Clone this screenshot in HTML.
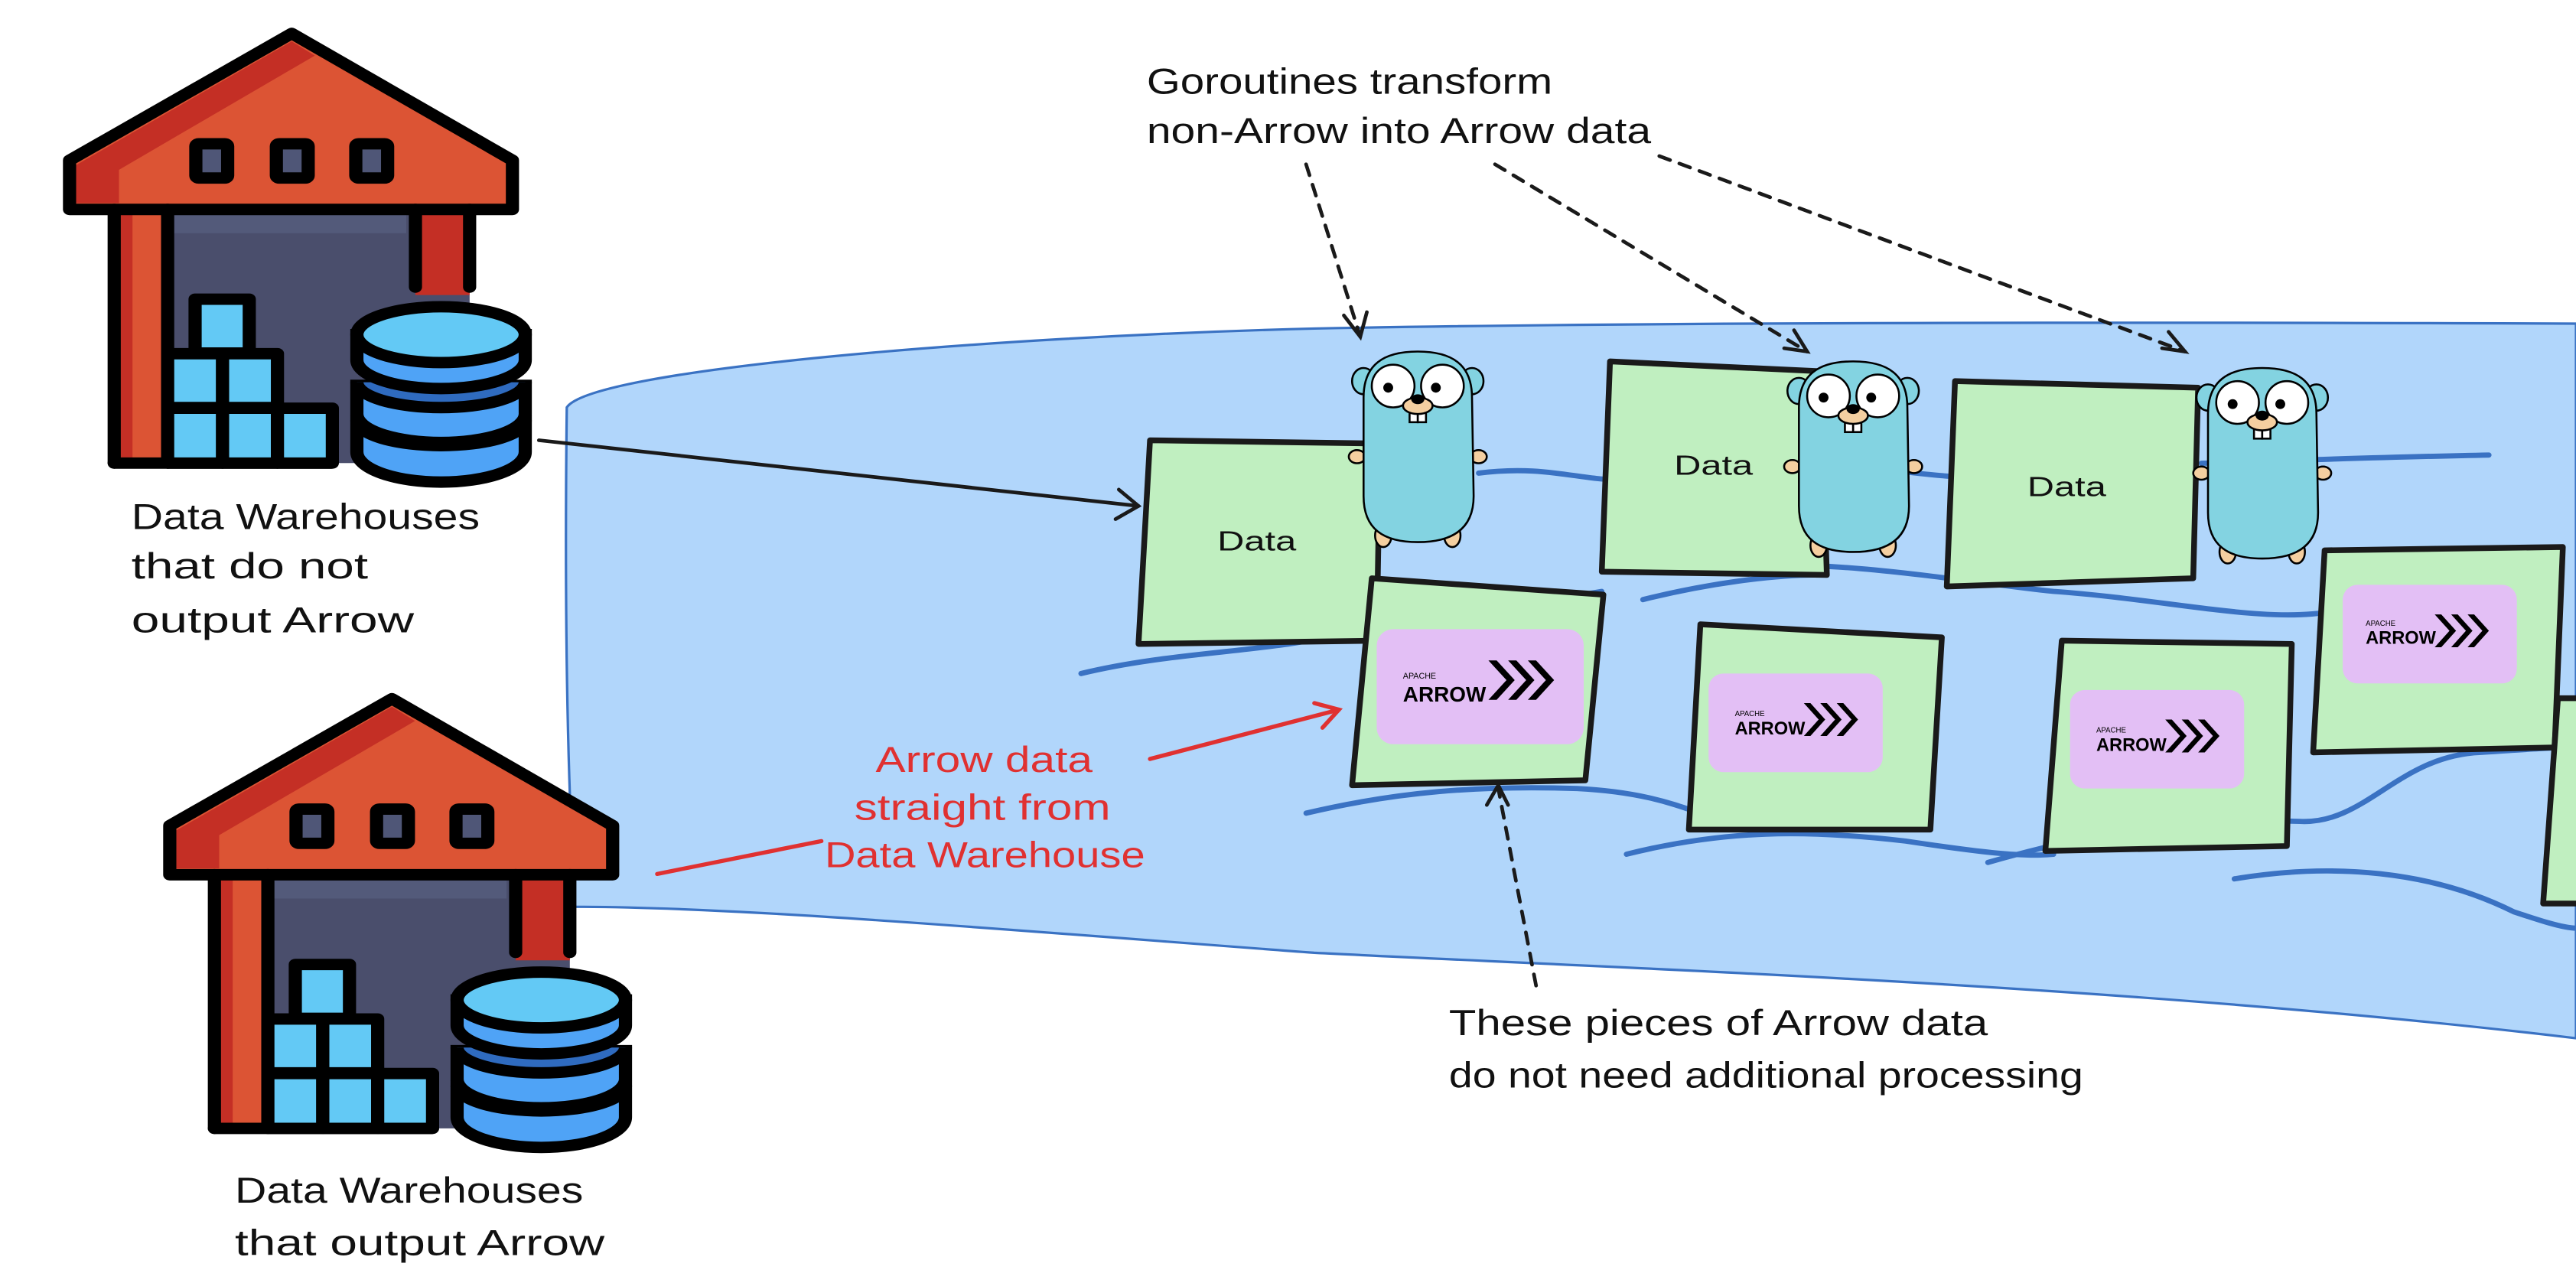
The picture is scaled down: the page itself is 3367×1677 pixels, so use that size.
<!DOCTYPE html>
<html><head><meta charset="utf-8"><style>
html,body{margin:0;padding:0;background:#fff;}
svg{display:block;}
text{font-family:"Liberation Sans","DejaVu Sans",sans-serif;}
</style></head><body>
<svg width="3367" height="1677" viewBox="0 0 1568 781" preserveAspectRatio="none" xmlns="http://www.w3.org/2000/svg">
<defs>
<g id="wh">
  <rect x="312" y="645" width="971" height="800" fill="#4a4e6c"/>
  <rect x="470" y="660" width="640" height="60" fill="#535a7a"/>
  <rect x="312" y="645" width="146" height="800" fill="#dc5434"/>
  <rect x="312" y="645" width="50" height="800" fill="#c42f25"/>
  <rect x="1135" y="645" width="148" height="270" fill="#c42f25"/>
  <polygon points="190,490 797,90 1400,490 1400,645 190,645" fill="#dc5434"/>
  <polygon points="208,505 797,115 860,160 325,520 325,625 208,625" fill="#c42f25"/>
  <polygon points="190,490 797,90 1400,490 1400,645 190,645" fill="none" stroke="#000" stroke-width="36" stroke-linejoin="round"/>
  <g fill="#4f5677" stroke="#000" stroke-width="36">
    <rect x="535" y="438" width="87" height="108" rx="8"/>
    <rect x="755" y="438" width="87" height="108" rx="8"/>
    <rect x="972" y="438" width="87" height="108" rx="8"/>
  </g>
  <g stroke="#000" stroke-width="36" stroke-linecap="round" fill="none">
    <line x1="312" y1="645" x2="312" y2="1445"/>
    <line x1="458" y1="645" x2="458" y2="1445"/>
    <line x1="1135" y1="645" x2="1135" y2="890"/>
    <line x1="1283" y1="645" x2="1283" y2="890"/>
    <line x1="312" y1="1445" x2="905" y2="1445"/>
  </g>
  <g fill="#63c9f5" stroke="#000" stroke-width="36" stroke-linejoin="round">
    <rect x="533" y="928" width="148" height="170"/>
    <rect x="458" y="1100" width="150" height="170"/>
    <rect x="608" y="1100" width="150" height="170"/>
    <rect x="458" y="1272" width="150" height="173"/>
    <rect x="608" y="1272" width="150" height="173"/>
    <rect x="758" y="1272" width="150" height="173"/>
  </g>
  <g stroke="#000" stroke-width="36">
    <path d="M975,1310 L975,1410 A230,95 0 0 0 1435,1410 L1435,1310 Z" fill="#4fa3f6"/>
    <path d="M975,1310 A230,80 0 0 0 1435,1310" fill="#2f6bbf"/>
    <path d="M975,1200 L975,1290 A230,90 0 0 0 1435,1290 L1435,1200 Z" fill="#4fa3f6"/>
    <path d="M975,1190 A230,80 0 0 0 1435,1190" fill="#2f6bbf"/>
    <path d="M975,1040 L975,1120 A230,90 0 0 0 1435,1120 L1435,1040 Z" fill="#4fa3f6"/>
    <ellipse cx="1205" cy="1040" rx="230" ry="88" fill="#63c9f5"/>
  </g>
</g>
<g id="gopher">
  <g stroke="#000" stroke-width="1.2">
    <ellipse cx="8" cy="20" rx="7" ry="8" fill="#83d3e1"/>
    <ellipse cx="74" cy="20" rx="7" ry="8" fill="#83d3e1"/>
    <ellipse cx="4" cy="66" rx="5" ry="4" fill="#f4cfa0"/>
    <ellipse cx="78" cy="66" rx="5" ry="4" fill="#f4cfa0"/>
    <ellipse cx="20" cy="114" rx="5" ry="7" fill="#f4cfa0"/>
    <ellipse cx="62" cy="114" rx="5" ry="7" fill="#f4cfa0"/>
    <path d="M8,30 C8,10 20,2 41,2 C62,2 74,10 74,30 L75,90 C75,110 62,118 41,118 C20,118 8,110 8,90 Z" fill="#83d3e1"/>
    <circle cx="26" cy="23" r="13" fill="#fff"/>
    <circle cx="56" cy="23" r="13" fill="#fff"/>
    <rect x="36" y="36" width="5" height="9" fill="#fff"/>
    <rect x="41" y="36" width="5" height="9" fill="#fff"/>
    <ellipse cx="41" cy="35" rx="9" ry="5" fill="#f4cfa0"/>
  </g>
  <circle cx="23" cy="24" r="3" fill="#000"/>
  <circle cx="52" cy="24" r="3" fill="#000"/>
  <ellipse cx="41" cy="31" rx="4" ry="3" fill="#000"/>
</g>
</defs>

<path d="M345,248 C360,225 600,205 800,200 C1000,196 1300,196 1568,197 L1568,632 C1300,600 1000,590 800,580 C600,565 450,552 350,552 C344,450 344,330 345,248 Z" fill="#b1d6fb" stroke="#3a72c3" stroke-width="1.5"/>

<g fill="none" stroke="#3a72c3" stroke-width="3.2" stroke-linecap="round">
  <path d="M658,410 C720,395 780,398 830,382 C870,370 930,368 975,360"/>
  <path d="M900,288 C940,283 960,292 985,292"/>
  <path d="M1060,345 C1120,340 1200,355 1250,360 C1320,365 1380,380 1420,372"/>
  <path d="M1105,280 C1140,285 1180,290 1190,290 M1340,282 C1400,280 1460,278 1515,277"/>
  <path d="M795,495 C850,482 900,478 960,480 C1000,482 1020,490 1035,495"/>
  <path d="M990,520 C1050,505 1100,505 1160,512 C1200,518 1230,522 1250,520"/>
  <path d="M1210,525 C1280,505 1330,498 1400,500 C1440,502 1460,460 1510,458 C1540,456 1555,455 1568,455"/>
  <path d="M1360,535 C1420,525 1480,530 1530,555 C1545,560 1560,565 1568,565"/>
  <path d="M1000,365 C1040,355 1080,350 1105,350"/>
</g>

<g stroke="#1a1a1a" stroke-width="3.5" stroke-linejoin="round" fill="#c0efc0">
  <path d="M700,268 L840,270 L838,390 L693,392 Z"/>
  <path d="M980,220 L1108,226 L1112,350 L975,348 Z"/>
  <path d="M1190,232 L1338,236 L1335,352 L1185,357 Z"/>
  <path d="M835,352 L976,362 L965,475 L823,478 Z"/>
  <path d="M1035,380 L1182,388 L1175,505 L1028,505 Z"/>
  <path d="M1255,390 L1395,392 L1392,515 L1245,518 Z"/>
  <path d="M1415,335 L1560,333 L1555,455 L1408,458 Z"/>
  <path d="M1557,425 L1580,425 L1580,550 L1548,550 Z"/>
</g>
<g font-size="17" fill="#111">
  <text x="741" y="335" textLength="48" lengthAdjust="spacingAndGlyphs">Data</text>
  <text x="1019" y="289" textLength="48" lengthAdjust="spacingAndGlyphs">Data</text>
  <text x="1234" y="302" textLength="48" lengthAdjust="spacingAndGlyphs">Data</text>
</g>

<g>
  <rect x="838" y="383" width="126" height="70" rx="10" fill="#e3bff5"/>
  <text x="854" y="413" font-size="5">APACHE</text>
  <text x="854" y="427" font-size="13" font-weight="bold">ARROW</text>
  <path d="M906,402 l11,12 l-11,12 h5 l11,-12 l-11,-12z M918,402 l11,12 l-11,12 h5 l11,-12 l-11,-12z M930,402 l11,12 l-11,12 h5 l11,-12 l-11,-12z" fill="#000"/>
  <rect x="1040" y="410" width="106" height="60" rx="9" fill="#e3bff5"/>
  <text x="1056" y="436" font-size="4.5">APACHE</text>
  <text x="1056" y="447" font-size="11" font-weight="bold">ARROW</text>
  <path d="M1098,428 l9,10 l-9,10 h4 l9,-10 l-9,-10z M1108,428 l9,10 l-9,10 h4 l9,-10 l-9,-10z M1118,428 l9,10 l-9,10 h4 l9,-10 l-9,-10z" fill="#000"/>
  <rect x="1260" y="420" width="106" height="60" rx="9" fill="#e3bff5"/>
  <text x="1276" y="446" font-size="4.5">APACHE</text>
  <text x="1276" y="457" font-size="11" font-weight="bold">ARROW</text>
  <path d="M1318,438 l9,10 l-9,10 h4 l9,-10 l-9,-10z M1328,438 l9,10 l-9,10 h4 l9,-10 l-9,-10z M1338,438 l9,10 l-9,10 h4 l9,-10 l-9,-10z" fill="#000"/>
  <rect x="1426" y="356" width="106" height="60" rx="9" fill="#e3bff5"/>
  <text x="1440" y="381" font-size="4.5">APACHE</text>
  <text x="1440" y="392" font-size="11" font-weight="bold">ARROW</text>
  <path d="M1482,374 l9,10 l-9,10 h4 l9,-10 l-9,-10z M1492,374 l9,10 l-9,10 h4 l9,-10 l-9,-10z M1502,374 l9,10 l-9,10 h4 l9,-10 l-9,-10z" fill="#000"/>
</g>

<use href="#gopher" transform="translate(822,212)"/>
<use href="#gopher" transform="translate(1087,218)"/>
<use href="#gopher" transform="translate(1336,222)"/>

<use href="#wh" transform="translate(0,3) scale(0.2228,0.193)"/>
<use href="#wh" transform="translate(61,408) scale(0.2228,0.193)"/>

<g font-size="22" fill="#111" lengthAdjust="spacingAndGlyphs">
  <text x="80" y="322" textLength="212" lengthAdjust="spacingAndGlyphs">Data Warehouses</text>
  <text x="80" y="352" textLength="144" lengthAdjust="spacingAndGlyphs">that do not</text>
  <text x="80" y="385" textLength="172" lengthAdjust="spacingAndGlyphs">output Arrow</text>
  <text x="143" y="732" textLength="212" lengthAdjust="spacingAndGlyphs">Data Warehouses</text>
  <text x="143" y="764" textLength="225" lengthAdjust="spacingAndGlyphs">that output Arrow</text>
  <text x="698" y="57" textLength="247" lengthAdjust="spacingAndGlyphs">Goroutines transform</text>
  <text x="698" y="87" textLength="307" lengthAdjust="spacingAndGlyphs">non-Arrow into Arrow data</text>
  <text x="882" y="630" textLength="328" lengthAdjust="spacingAndGlyphs">These pieces of Arrow data</text>
  <text x="882" y="662" textLength="386" lengthAdjust="spacingAndGlyphs">do not need additional processing</text>
</g>
<g font-size="22" fill="#e03131">
  <text x="533" y="470" textLength="132" lengthAdjust="spacingAndGlyphs">Arrow data</text>
  <text x="520" y="499" textLength="156" lengthAdjust="spacingAndGlyphs">straight from</text>
  <text x="502" y="528" textLength="195" lengthAdjust="spacingAndGlyphs">Data Warehouse</text>
</g>

<g fill="none" stroke="#1a1a1a" stroke-width="2.2" stroke-linecap="round">
  <path d="M328,268 L693,308"/>
  <path d="M681,298 L693,308 L679,316"/>
  <g stroke-dasharray="7,6">
    <path d="M795,100 L828,205"/>
    <path d="M910,100 L1100,214"/>
    <path d="M1010,95 L1330,214"/>
    <path d="M935,600 L912,480"/>
  </g>
  <path d="M818,192 L828,205 L832,190"/>
  <path d="M1086,212 L1100,214 L1092,201"/>
  <path d="M1316,212 L1330,214 L1320,202"/>
  <path d="M905,490 L912,478 L918,490"/>
</g>
<g fill="none" stroke="#e03131" stroke-width="2.5" stroke-linecap="round">
  <path d="M400,532 L500,512"/>
  <path d="M700,462 L815,432"/>
  <path d="M800,428 L815,432 L805,443"/>
</g>
</svg>
</body></html>
